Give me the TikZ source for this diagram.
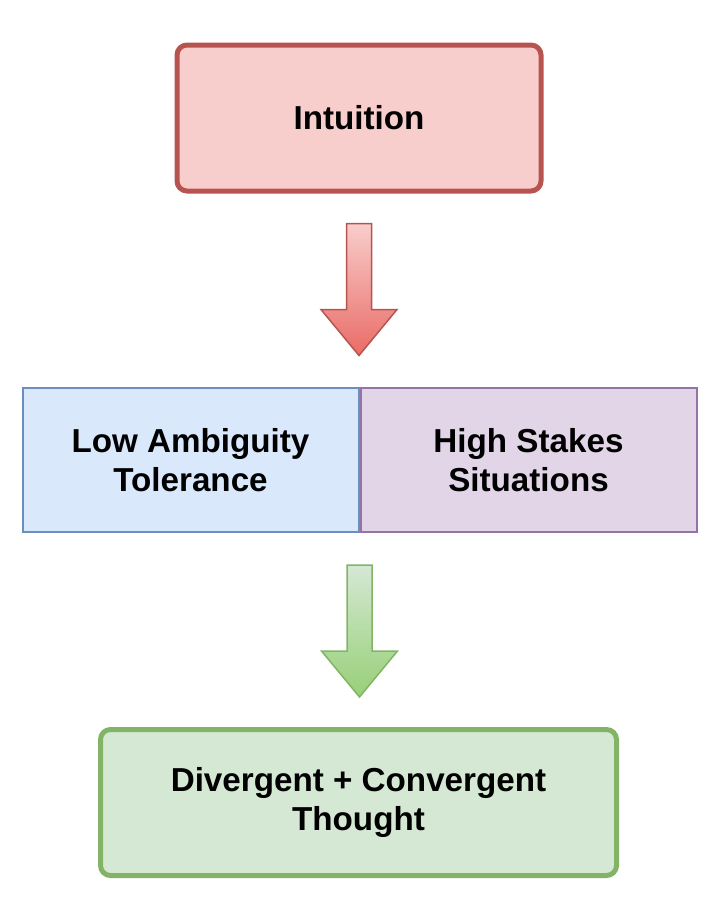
\documentclass[tikz,border=0pt]{standalone}
\usepackage{fontspec}
\setmainfont{Liberation Sans}
\usetikzlibrary{positioning}
\definecolor{redfill}{HTML}{F8CECC}
\definecolor{redline}{HTML}{B85450}
\definecolor{redtip}{HTML}{EA6B66}
\definecolor{bluefill}{HTML}{DAE8FC}
\definecolor{blueline}{HTML}{6C8EBF}
\definecolor{purplefill}{HTML}{E1D5E7}
\definecolor{purpleline}{HTML}{9673A6}
\definecolor{greenfill}{HTML}{D5E8D4}
\definecolor{greenline}{HTML}{82B366}
\definecolor{greentip}{HTML}{97D077}
\tikzset{
  box/.style={draw, align=center, inner sep=0pt,
    font=\bfseries\fontsize{16.6}{19.5}\selectfont},
  bigbox/.style={box, rounded corners=5pt, line width=2.5pt,
    minimum height=73pt},
  flatbox/.style={box, line width=1pt, minimum width=168pt,
    minimum height=72pt},
  blockarrow/.style={line width=0.75pt},
}
\begin{document}
\begin{tikzpicture}[x=0.5pt,y=-0.5pt]
  \useasboundingbox (0,0) rectangle (718,916);
  %% top
  \node[bigbox, fill=redfill, draw=redline, minimum width=182pt]
    (intuition) at (359,118) {Intuition};
  %% middle pair
  \node[flatbox, fill=bluefill, draw=blueline]
    (lowamb) at (190.5,460) {Low Ambiguity\\Tolerance};
  \node[flatbox, fill=purplefill, draw=purpleline, right=0pt of lowamb]
    (highstakes) {High Stakes\\Situations};
  %% bottom
  \node[bigbox, fill=greenfill, draw=greenline, minimum width=258pt]
    (thought) at (358.5,802.5) {Divergent + Convergent\\Thought};
  %% arrows
  \coordinate[below=15pt of intuition] (arrowone);
  \coordinate[below=16pt of lowamb.south east] (arrowtwo);
  \shade[blockarrow, draw=redline, top color=redfill, bottom color=redtip]
    (arrowone) ++(-6.25pt,0) -- ++(12.5pt,0) -- ++(0,-43pt) -- ++(12.75pt,0)
    -- ++(-19pt,-23pt) -- ++(-19pt,23pt) -- ++(12.75pt,0) -- cycle;
  \shade[blockarrow, draw=greenline, top color=greenfill, bottom color=greentip]
    (arrowtwo) ++(-6.25pt,0) -- ++(12.5pt,0) -- ++(0,-43pt) -- ++(12.75pt,0)
    -- ++(-19pt,-23pt) -- ++(-19pt,23pt) -- ++(12.75pt,0) -- cycle;
\end{tikzpicture}
\end{document}
